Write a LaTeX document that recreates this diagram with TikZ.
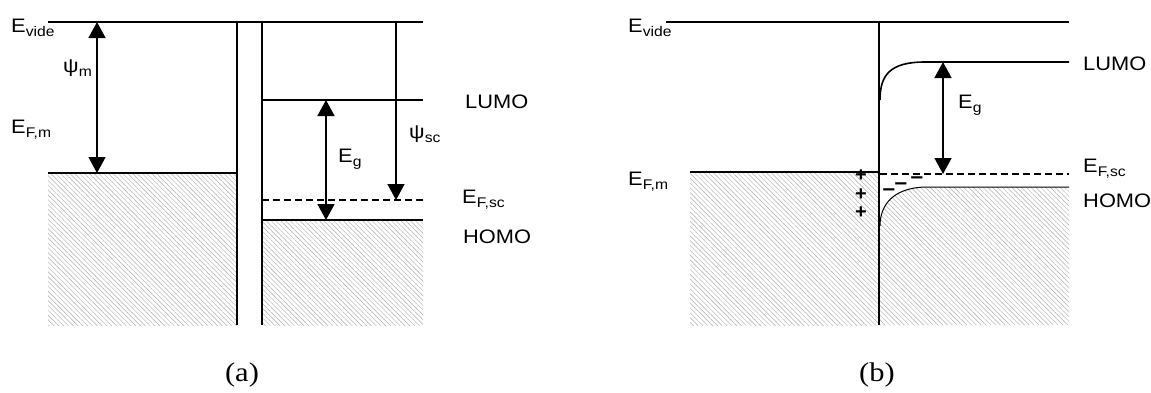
\documentclass[tikz,border=0pt]{standalone}
\usepackage{fontspec}
\setmainfont{Liberation Sans}
\newfontfamily\serifcap{Liberation Serif}
\usetikzlibrary{arrows.meta,patterns.meta}
\newcommand{\lsub}[1]{\raisebox{-0.45ex}{\fontsize{14}{14}\selectfont #1}}
\begin{document}
\begin{tikzpicture}[x=1pt,y=-1pt,
  lvl/.style={line width=1.6pt},
  thinlvl/.style={line width=1pt},
  dashlvl/.style={line width=1.6pt, dash pattern=on 7pt off 4pt},
  hatch/.style={pattern={Lines[angle=-45,distance=3.4pt,line width=0.45pt]}, pattern color=black!32},
  dbl/.style={line width=1.5pt,{Triangle[width=17pt,length=16pt]}-{Triangle[width=17pt,length=16pt]}},
  sgl/.style={line width=1.5pt,-{Triangle[width=17pt,length=16pt]}},
  lab/.style={font=\fontsize{19.5}{19.5}\selectfont, inner sep=0pt, anchor=base west, xscale=1.12},
  charge/.style={font=\bfseries\fontsize{20}{20}\selectfont, inner sep=0pt},
  neg/.style={font=\bfseries\fontsize{20}{20}\selectfont, inner sep=0pt, xscale=1.12},
  capt/.style={font=\serifcap\fontsize{27}{27}\selectfont, inner sep=0pt, xscale=1.13}
]
\useasboundingbox (0,0) rectangle (1151,392);

% ---------------- panel (a) ----------------
\fill[hatch] (48,173) rectangle (237,325);
\fill[hatch] (262,220) rectangle (423,325);
\draw[lvl] (48,22) -- (423,22);
\draw[lvl] (237,22) -- (237,325);
\draw[lvl] (262,22) -- (262,325);
\draw[lvl] (48,173) -- (237,173);
\draw[lvl] (262,100) -- (423,100);
\draw[dashlvl] (262,200) -- (423,200);
\draw[lvl] (262,220) -- (423,220);

\coordinate (psiTop) at (97,22);
\coordinate (psiBot) at (97,173);
\draw[dbl] (psiTop) -- (psiBot);
\coordinate (egTopA) at (326,100);
\coordinate (egBotA) at (326,220);
\draw[dbl] (egTopA) -- (egBotA);
\coordinate (psscTop) at (396,22);
\coordinate (psscBot) at (396,200);
\draw[sgl] (psscTop) -- (psscBot);

\node[lab] (evideA) at (11,32) {E\lsub{vide}};
\node[lab] (psim) at (63,72) {ψ\lsub{m}};
\node[lab] (efmA) at (11,133) {E\lsub{F,m}};
\node[lab] (egA) at (338,162) {E\lsub{g}};
\node[lab] (psisc) at (409,138) {ψ\lsub{sc}};
\node[lab] (lumoA) at (465,108) {LUMO};
\node[lab] (efscA) at (462,203) {E\lsub{F,sc}};
\node[lab] (homoA) at (463,243) {HOMO};
\node[capt] (capA) at (242,375) {(a)};

% ---------------- panel (b) ----------------
\fill[hatch] (690,172) rectangle (879,325);
\fill[hatch] (880,226) .. controls (880,205) and (893,188) .. (925,187) -- (1069,187) -- (1069,325) -- (880,325) -- cycle;
\draw[lvl] (666,22) -- (1069,22);
\draw[lvl] (879,22) -- (879,325);
\draw[lvl] (690,172) -- (879,172);
\draw[lvl] (880,100) .. controls (880,75) and (890,62) .. (925,62) -- (1069,62);
\draw[dashlvl] (880,174) -- (1069,174);
\draw[thinlvl] (880,226) .. controls (880,205) and (893,188) .. (925,187) -- (1069,187);

\coordinate (egTopB) at (943,62);
\coordinate (egBotB) at (943,174);
\draw[dbl] (egTopB) -- (egBotB);

\node[charge] (p1) at (861,176) {+};
\node[charge] (p2) at (861,195) {+};
\node[charge] (p3) at (861,213) {+};
\node[neg] (m1) at (889,193) {−};
\node[neg] (m2) at (901,187) {−};
\node[neg] (m3) at (917,181) {−};

\node[lab] (evideB) at (628,32) {E\lsub{vide}};
\node[lab] (efmB) at (628,185) {E\lsub{F,m}};
\node[lab] (lumoB) at (1083,70) {LUMO};
\node[lab] (egB) at (958,108) {E\lsub{g}};
\node[lab] (efscB) at (1083,172) {E\lsub{F,sc}};
\node[lab] (homoB) at (1083,207) {HOMO};
\node[capt] (capB) at (877,375) {(b)};
\end{tikzpicture}
\end{document}
